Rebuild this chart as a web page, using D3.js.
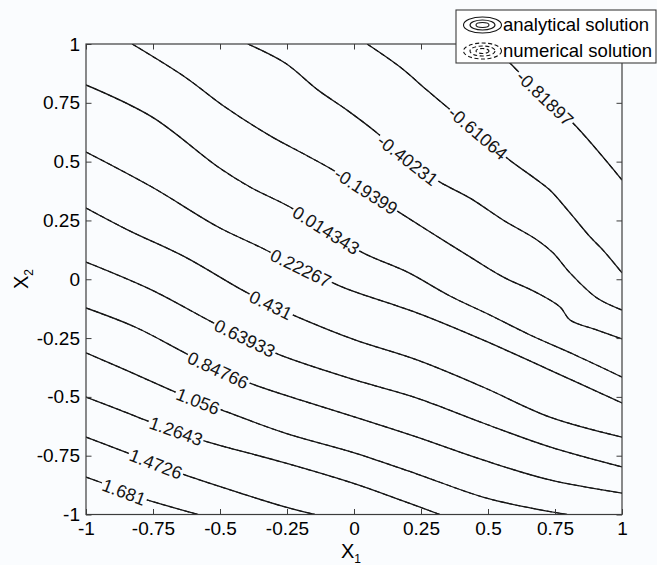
<!DOCTYPE html>
<html>
<head>
<meta charset="utf-8">
<script src="https://cdn.jsdelivr.net/npm/d3@7"></script>
<style>
  html, body { margin: 0; padding: 0; background: #fafcfe; }
  svg { display: block; font-family: "Liberation Sans", Arial, Helvetica, sans-serif; }
</style>
</head>
<body>
<svg id="chart" width="657" height="565"></svg>
<script>
// Contour levels and their printed labels
const levels = [-0.81897, -0.61064, -0.40231, -0.19399, 0.014343, 0.22267, 0.431,
                0.63933, 0.84766, 1.056, 1.2643, 1.4726, 1.681];
const levelLabels = ["-0.81897", "-0.61064", "-0.40231", "-0.19399", "0.014343", "0.22267", "0.431",
                     "0.63933", "0.84766", "1.056", "1.2643", "1.4726", "1.681"];

// Iso-lines as [x1, x2] vertices, one array per level
const isoM081897 = [[0.515,1],[0.582,0.919],[0.713,0.770],[0.817,0.664],[1,0.422]];
const isoM061064 = [[0.049,1],[0.172,0.902],[0.272,0.804],[0.347,0.732],[0.463,0.622],[0.571,0.515],
                    [0.683,0.422],[0.731,0.379],[0.806,0.282],[0.881,0.180],[0.929,0.124],[1,0.027]];
const isoM040231 = [[-0.396,1],[-0.257,0.919],[-0.134,0.804],[-0.026,0.719],[0.086,0.622],[0.201,0.507],
                    [0.321,0.413],[0.433,0.345],[0.556,0.252],[0.683,0.167],[0.743,0.112],[0.806,0.027],
                    [0.907,-0.080],[1,-0.131]];
const isoM019399 = [[-0.828,1],[-0.631,0.860],[-0.481,0.732],[-0.306,0.605],[-0.201,0.541],[-0.078,0.464],
                    [0.045,0.375],[0.172,0.282],[0.302,0.188],[0.433,0.095],[0.556,0.010],[0.683,-0.058],
                    [0.769,-0.118],[0.806,-0.173],[0.907,-0.216],[1,-0.254]];
const iso0014343 = [[-1,0.826],[-0.754,0.690],[-0.507,0.477],[-0.388,0.392],[-0.239,0.307],[-0.104,0.209],
                    [0.034,0.112],[0.198,0.031],[0.358,-0.071],[0.507,-0.152],[0.657,-0.237],[0.825,-0.322],
                    [1,-0.416]];
const iso022267 = [[-1,0.541],[-0.754,0.392],[-0.507,0.222],[-0.351,0.137],[-0.198,0.048],[-0.052,-0.029],
                   [0.004,-0.054],[0.235,-0.143],[0.481,-0.258],[0.731,-0.386],[1,-0.526]];
const iso0431 = [[-1,0.303],[-0.843,0.209],[-0.631,0.095],[-0.425,-0.041],[-0.310,-0.109],[-0.201,-0.165],
                 [0.004,-0.258],[0.235,-0.343],[0.481,-0.458],[0.731,-0.586],[1,-0.671]];
const iso063933 = [[-1,0.073],[-0.754,-0.046],[-0.530,-0.182],[-0.407,-0.250],[-0.284,-0.318],[0.004,-0.428],
                   [0.235,-0.505],[0.481,-0.611],[0.731,-0.713],[1,-0.798]];
const iso084766 = [[-1,-0.122],[-0.817,-0.203],[-0.631,-0.313],[-0.507,-0.386],[-0.381,-0.445],[-0.201,-0.513],
                   [0.004,-0.586],[0.235,-0.671],[0.481,-0.768],[0.731,-0.853],[1,-0.909]];
const iso1056 = [[-1,-0.313],[-0.836,-0.394],[-0.668,-0.479],[-0.582,-0.518],[-0.493,-0.556],[-0.257,-0.654],
                 [0.004,-0.739],[0.235,-0.828],[0.481,-0.926],[0.657,-0.972],[0.795,-1]];
const iso12643 = [[-1,-0.501],[-0.873,-0.556],[-0.769,-0.603],[-0.664,-0.645],[-0.556,-0.688],[-0.257,-0.781],
                  [0.004,-0.870],[0.172,-0.938],[0.321,-1]];
const iso14726 = [[-1,-0.671],[-0.843,-0.739],[-0.739,-0.785],[-0.631,-0.832],[-0.425,-0.909],[-0.257,-0.968],
                  [-0.146,-1]];
const iso1681 = [[-1,-0.841],[-0.940,-0.866],[-0.858,-0.904],[-0.772,-0.938],[-0.582,-1]];

const isoLines = [isoM081897, isoM061064, isoM040231, isoM019399, iso0014343, iso022267, iso0431,
                  iso063933, iso084766, iso1056, iso12643, iso14726, iso1681];

// Where each level's label sits on its line
const labelPoints = [[0.713,0.770],[0.463,0.622],[0.201,0.507],[0.045,0.375],[-0.104,0.209],[-0.198,0.048],
                     [-0.310,-0.109],[-0.407,-0.250],[-0.507,-0.386],[-0.582,-0.518],[-0.664,-0.645],
                     [-0.739,-0.785],[-0.858,-0.904]];

// Axis ticks
const xTicks = [-1, -0.75, -0.5, -0.25, 0, 0.25, 0.5, 0.75, 1];
const yTicks = [-1, -0.75, -0.5, -0.25, 0, 0.25, 0.5, 0.75, 1];
const tickLabels = ["-1", "-0.75", "-0.5", "-0.25", "0", "0.25", "0.5", "0.75", "1"];

const legendItems = ["analytical solution", "numerical solution"];

// ---- drawing ----
const bg = "#fafcfe";
const ink = "#151515";
const frame = "#3c3c3c";
const svg = d3.select("#chart");
svg.append("rect").attr("width", 657).attr("height", 565).attr("fill", bg);

const L = 86, R = 622, T = 44, B = 514.5;
const x = d3.scaleLinear().domain([-1, 1]).range([L, R]);
const y = d3.scaleLinear().domain([-1, 1]).range([B, T]);

svg.append("defs").append("clipPath").attr("id", "plotclip")
  .append("rect").attr("x", L).attr("y", T).attr("width", R - L).attr("height", B - T);

const plot = svg.append("g").attr("clip-path", "url(#plotclip)");
const line = d3.line().x(d => x(d[0])).y(d => y(d[1])).curve(d3.curveCatmullRom.alpha(0.5));

// analytical solution (solid)
plot.selectAll("path.analytical").data(isoLines).join("path")
  .attr("class", "analytical")
  .attr("d", line).attr("fill", "none")
  .attr("stroke", ink).attr("stroke-width", 1.3).attr("stroke-linejoin", "round");

// numerical solution (dashed), coincident with the analytical lines
plot.selectAll("path.numerical").data(isoLines).join("path")
  .attr("class", "numerical")
  .attr("d", line).attr("fill", "none")
  .attr("stroke", ink).attr("stroke-width", 1.1).attr("stroke-dasharray", "5,3");

// inline level labels
const labels = svg.append("g");
labelPoints.forEach((p, i) => {
  const pts = isoLines[i];
  const px = x(p[0]), py = y(p[1]);
  let k = 0, bd = Infinity;
  pts.forEach((q, j) => {
    const d = Math.hypot(x(q[0]) - px, y(q[1]) - py);
    if (d < bd) { bd = d; k = j; }
  });
  const a = pts[Math.max(0, k - 1)], b = pts[Math.min(pts.length - 1, k + 1)];
  const ang = Math.atan2(y(b[1]) - y(a[1]), x(b[0]) - x(a[0])) * 180 / Math.PI;
  const g = labels.append("g").attr("transform", `translate(${px},${py}) rotate(${ang})`);
  const t = g.append("text")
    .attr("text-anchor", "middle").attr("dy", "0.36em")
    .attr("font-size", 18).attr("fill", ink)
    .text(levelLabels[i]);
  const bb = t.node().getBBox();
  g.insert("rect", "text")
    .attr("x", bb.x - 1.5).attr("y", bb.y + 2).attr("width", bb.width + 3).attr("height", bb.height - 4)
    .attr("fill", bg);
});

// axes with inward ticks on all four sides
const fmt = (d) => tickLabels[xTicks.indexOf(d)];
const gx = svg.append("g").attr("transform", `translate(0,${B})`)
  .call(d3.axisBottom(x).tickValues(xTicks).tickFormat(fmt).tickSizeInner(-5.5).tickSizeOuter(0).tickPadding(7));
const gy = svg.append("g").attr("transform", `translate(${L},0)`)
  .call(d3.axisLeft(y).tickValues(yTicks).tickFormat(d => tickLabels[yTicks.indexOf(d)]).tickSizeInner(-5.5).tickSizeOuter(0).tickPadding(6));
const gt = svg.append("g").attr("transform", `translate(0,${T})`)
  .call(d3.axisTop(x).tickValues(xTicks).tickFormat("").tickSizeInner(-5.5).tickSizeOuter(0));
const gr = svg.append("g").attr("transform", `translate(${R},0)`)
  .call(d3.axisRight(y).tickValues(yTicks).tickFormat("").tickSizeInner(-5.5).tickSizeOuter(0));
[gx, gy, gt, gr].forEach(g => {
  g.select(".domain").remove();
  g.selectAll(".tick line").attr("stroke", frame).attr("stroke-width", 1);
  g.selectAll(".tick text").attr("font-size", 19).attr("fill", "#000")
    .attr("font-family", "'Liberation Sans', Arial, sans-serif");
});

// axes box
svg.append("rect").attr("x", L).attr("y", T).attr("width", R - L).attr("height", B - T)
  .attr("fill", "none").attr("stroke", frame).attr("stroke-width", 1.2);

// axis titles
const xt = svg.append("text").attr("x", 351).attr("y", 558).attr("text-anchor", "middle")
  .attr("font-size", 20).attr("fill", "#000");
xt.append("tspan").text("X");
xt.append("tspan").attr("font-size", 12).attr("dy", 5).text("1");

const yt = svg.append("text").attr("transform", `translate(28,279) rotate(-90)`).attr("text-anchor", "middle")
  .attr("font-size", 20).attr("fill", "#000");
yt.append("tspan").text("X");
yt.append("tspan").attr("font-size", 12).attr("dy", 5).text("2");

// legend
const lg = svg.append("g");
lg.append("rect").attr("x", 456).attr("y", 10).attr("width", 200).attr("height", 53)
  .attr("fill", "#fff").attr("stroke", frame).attr("stroke-width", 1.1);
legendItems.forEach((name, i) => {
  const cy = 25 + i * 26, cx = 482.5;
  [[19, 8], [12.5, 5], [6.5, 2.5]].forEach(([rx, ry]) => {
    lg.append("ellipse").attr("cx", cx).attr("cy", cy).attr("rx", rx).attr("ry", ry)
      .attr("fill", "none").attr("stroke", ink).attr("stroke-width", 1.1)
      .attr("stroke-dasharray", i === 1 ? "4,2.5" : null);
  });
  lg.append("text").attr("x", 503).attr("y", 30.5 + i * 26)
    .attr("font-size", 18.5).attr("fill", "#000").text(name);
});
</script>
</body>
</html>
